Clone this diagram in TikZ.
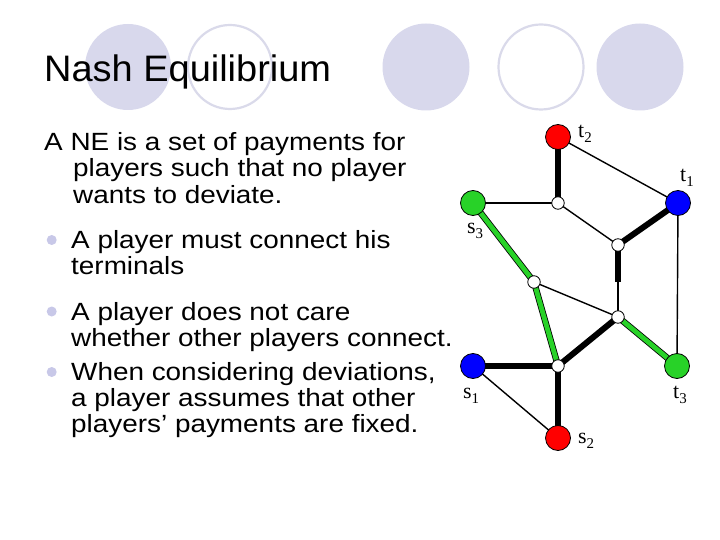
\documentclass[tikz,border=0pt]{standalone}
\usepackage{fontspec}
\usetikzlibrary{backgrounds}
\newfontfamily\titlefont[FakeStretch=1.03]{Liberation Sans}
\newfontfamily\bodyfont[FakeStretch=1.12]{Liberation Sans}
\newfontfamily\labfont{Liberation Serif}
\definecolor{lav}{RGB}{216,216,236}
\definecolor{lavline}{RGB}{218,218,234}
\definecolor{bul}{RGB}{200,200,232}
\definecolor{gr}{RGB}{40,210,40}
\newcommand\lab[2]{{\labfont\fontsize{22}{22}\selectfont #1\raisebox{-5bp}{\fontsize{15}{15}\selectfont #2}}}
\tikzset{
  deco/.style={fill=lav, draw=none},
  decoring/.style={draw=lavline, line width=2.2bp},
  bodytext/.style={anchor=base west, inner sep=0pt, font=\bodyfont\fontsize{25}{25}\selectfont},
  bulletdot/.style={circle, fill=bul, minimum size=10bp, inner sep=0pt},
  term/.style={circle, draw=black, line width=0.8bp, minimum size=25bp, inner sep=0pt},
  hub/.style={circle, draw=black, fill=white, line width=0.8bp, minimum size=12.5bp, inner sep=0pt},
  labtext/.style={anchor=base west, inner sep=0pt},
  thin/.style={draw=black, line width=1.4bp},
  heavy/.style={draw=black, line width=6bp},
  greenedge/.style={draw=black, line width=0.8bp, double=gr, double distance=4.8bp}
}
\begin{document}
\begin{tikzpicture}[x=1bp,y=-1bp]
\useasboundingbox (0,0) rectangle (720,540);
% decorative circles
\fill[deco] (128,67) circle (43);
\draw[decoring] (230,67) circle (42);
\fill[deco] (426,67) circle (43.5);
\draw[decoring] (541,67) circle (42.5);
\fill[deco] (640,67) circle (43.5);
% title
\node[anchor=base west, inner sep=0pt, font=\titlefont\fontsize{37}{37}\selectfont] (title) at (44,82) {Nash Equilibrium};
% body text
\node[bodytext] (l1) at (44,151) {A NE is a set of payments for};
\node[bodytext] (l2) at (73,177) {players such that no player};
\node[bodytext] (l3) at (73,204) {wants to deviate.};
\node[bulletdot] (b1) at (51.7,240) {};
\node[bodytext] (l4) at (71,249) {A player must connect his};
\node[bodytext] (l5) at (71,275) {terminals};
\node[bulletdot] (b2) at (51.7,311.5) {};
\node[bodytext] (l6) at (71,320) {A player does not care};
\node[bodytext] (l7) at (71,346) {whether other players connect.};
\node[bulletdot] (b3) at (51.7,372) {};
\node[bodytext] (l8) at (71,380) {When considering deviations,};
\node[bodytext] (l9) at (71,406) {a player assumes that other};
\node[bodytext] (l10) at (71,432) {players’ payments are fixed.};
% graph nodes
\node[term, fill=red] (t2) at (558,137) {};
\node[term, fill=blue] (t1) at (678,203) {};
\node[term, fill=gr] (s3) at (473,203) {};
\node[hub] (w1) at (558,203) {};
\node[hub] (w2) at (618,245) {};
\node[hub] (w3) at (534,282) {};
\node[hub] (w4) at (618,317) {};
\node[hub] (w5) at (558,366) {};
\node[term, fill=blue] (s1) at (473,366) {};
\node[term, fill=gr] (t3) at (677,366) {};
\node[term, fill=red] (s2) at (558,438) {};
\coordinate (mid) at (618,282);
% labels
\node[labtext] (lt2) at (578,138) {\lab{t}{2}};
\node[labtext] (lt1) at (680,182) {\lab{t}{1}};
\node[labtext] (ls3) at (467,234) {\lab{s}{3}};
\node[labtext] (ls1) at (463,398) {\lab{s}{1}};
\node[labtext] (ls2) at (578,443) {\lab{s}{2}};
\node[labtext] (lt3) at (673,398) {\lab{t}{3}};
% edges
\begin{pgfonlayer}{background}
\draw[thin] (t2.center) -- (t1.center);
\draw[thin] (s3.center) -- (w1.center);
\draw[thin] (w1.center) -- (w2.center);
\draw[thin] (t1.center) -- (t3.center);
\draw[thin] (w3.center) -- (w4.center);
\draw[thin] (mid) -- (w4.center);
\draw[thin] (s1.center) -- (s2.center);
\draw[heavy] (t2.center) -- (w1.center);
\draw[heavy] (w2.center) -- (t1.center);
\draw[heavy] (w2.center) -- (mid);
\draw[heavy] (w4.center) -- (w5.center);
\draw[heavy] (s1.center) -- (w5.center);
\draw[heavy] (w5.center) -- (s2.center);
\draw[greenedge] (s3.center) -- (w3.center);
\draw[greenedge] (w3.center) -- (w5.center);
\draw[greenedge] (w4.center) -- (t3.center);
\end{pgfonlayer}
\end{tikzpicture}
\end{document}
